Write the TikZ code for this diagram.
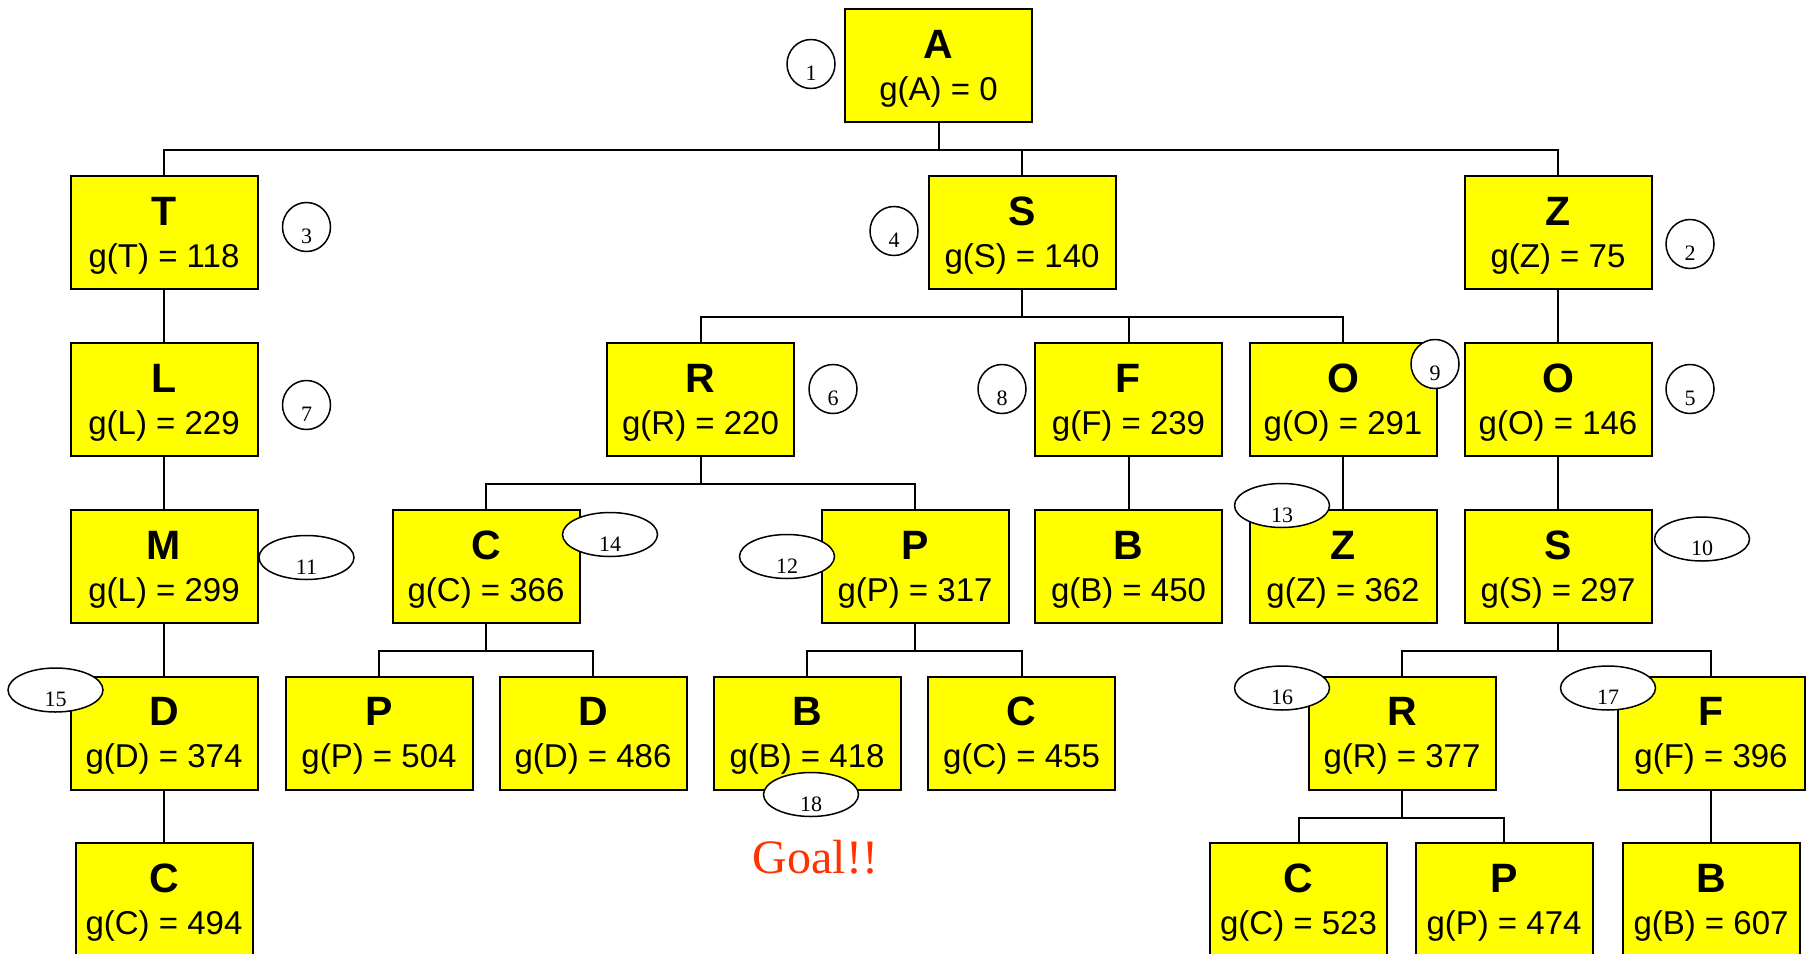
\documentclass[tikz,border=0pt]{standalone}
\usepackage{fontspec}
\setmainfont{Liberation Serif}
\newfontfamily\arialfont{Liberation Sans}
\usetikzlibrary{shapes.geometric}

\definecolor{boxyellow}{RGB}{255,255,0}
\definecolor{goalred}{RGB}{255,51,0}

\tikzset{
  treebox/.style={draw=black, fill=boxyellow, line width=2pt, minimum width=187pt, minimum height=113pt, inner sep=0pt, anchor=north},
  smallbox/.style={treebox, minimum width=177pt},
  lettertext/.style={font=\arialfont\bfseries\fontsize{41}{41}\selectfont, anchor=base, inner sep=0pt},
  gtext/.style={font=\arialfont\fontsize{33}{33}\selectfont, anchor=base, inner sep=0pt},
  conn/.style={line width=2pt},
  ordcirc/.style={draw, fill=white, ellipse, line width=1.5pt, minimum width=48pt, minimum height=49pt, inner sep=0pt},
  ordell/.style={draw, fill=white, ellipse, line width=1.5pt, minimum width=95pt, minimum height=44pt, inner sep=0pt},
  ordnum/.style={font=\fontsize{22}{22}\selectfont, anchor=base, inner sep=0pt},
  goaltext/.style={font=\fontsize{48}{48}\selectfont, text=goalred, anchor=base, inner sep=0pt},
}

\newcommand{\treenode}[6]{%
  \node[#2] (#1) at (#3,#4) {};
  \node[lettertext] (#1-l) at ([yshift=-50pt]#1.north) {#5};
  \node[gtext] (#1-g) at ([yshift=-92pt]#1.north) {#6};
}
\newcommand{\ordlabel}[5]{%
  \node[#2] (#1) at (#3,#4) {};
  \node[ordnum] (#1-n) at ([yshift=-16.5pt]#1.center) {#5};
}

\begin{document}
\begin{tikzpicture}[x=1pt, y=-1pt]
\useasboundingbox (0,0) rectangle (1814,953);

% boxes
\treenode{A}{treebox}{938.5}{8}{A}{g(A) = 0}
\treenode{T}{treebox}{164}{175}{T}{g(T) = 118}
\treenode{S}{treebox}{1022}{175}{S}{g(S) = 140}
\treenode{Z}{treebox}{1558}{175}{Z}{g(Z) = 75}
\treenode{L}{treebox}{164}{342}{L}{g(L) = 229}
\treenode{R}{treebox}{700.5}{342}{R}{g(R) = 220}
\treenode{F}{treebox}{1128.5}{342}{F}{g(F) = 239}
\treenode{O1}{treebox}{1343}{342}{O}{g(O) = 291}
\treenode{O2}{treebox}{1558}{342}{O}{g(O) = 146}
\treenode{M}{treebox}{164}{509}{M}{g(L) = 299}
\treenode{C1}{treebox}{486}{509}{C}{g(C) = 366}
\treenode{P1}{treebox}{915}{509}{P}{g(P) = 317}
\treenode{B1}{treebox}{1128.5}{509}{B}{g(B) = 450}
\treenode{Z2}{treebox}{1343}{509}{Z}{g(Z) = 362}
\treenode{S2}{treebox}{1558}{509}{S}{g(S) = 297}
\treenode{D1}{treebox}{164}{675.5}{D}{g(D) = 374}
\treenode{P2}{treebox}{379}{675.5}{P}{g(P) = 504}
\treenode{D2}{treebox}{593}{675.5}{D}{g(D) = 486}
\treenode{B2}{treebox}{807}{675.5}{B}{g(B) = 418}
\treenode{C2}{treebox}{1021.5}{675.5}{C}{g(C) = 455}
\treenode{R2}{treebox}{1402}{675.5}{R}{g(R) = 377}
\treenode{F2}{treebox}{1711}{675.5}{F}{g(F) = 396}
\treenode{C3}{smallbox}{164}{842}{C}{g(C) = 494}
\treenode{C4}{smallbox}{1298.5}{842}{C}{g(C) = 523}
\treenode{P3}{smallbox}{1504}{842}{P}{g(P) = 474}
\treenode{B3}{smallbox}{1711}{842}{B}{g(B) = 607}

% connectors
\foreach \c in {T,S,Z} \draw[conn] (A.south) -- ++(0,27) -| (\c.north);
\foreach \c in {R,F,O1} \draw[conn] (S.south) -- ++(0,27) -| (\c.north);
\foreach \c in {C1,P1} \draw[conn] (R.south) -- ++(0,27) -| (\c.north);
\foreach \c in {P2,D2} \draw[conn] (C1.south) -- ++(0,27) -| (\c.north);
\foreach \c in {B2,C2} \draw[conn] (P1.south) -- ++(0,27) -| (\c.north);
\foreach \c in {R2,F2} \draw[conn] (S2.south) -- ++(0,27) -| (\c.north);
\foreach \c in {C4,P3} \draw[conn] (R2.south) -- ++(0,27) -| (\c.north);
\draw[conn] (T.south) -- (L.north);
\draw[conn] (L.south) -- (M.north);
\draw[conn] (M.south) -- (D1.north);
\draw[conn] (D1.south) -- (C3.north);
\draw[conn] (Z.south) -- (O2.north);
\draw[conn] (O2.south) -- (S2.north);
\draw[conn] (F.south) -- (B1.north);
\draw[conn] (O1.south) -- (Z2.north);
\draw[conn] (F2.south) -- (B3.north);

% order labels
\ordlabel{n1}{ordcirc}{811}{64}{1}
\ordlabel{n2}{ordcirc}{1690}{244}{2}
\ordlabel{n3}{ordcirc}{306.5}{227}{3}
\ordlabel{n4}{ordcirc}{894}{231}{4}
\ordlabel{n5}{ordcirc}{1690}{389}{5}
\ordlabel{n6}{ordcirc}{833}{389}{6}
\ordlabel{n7}{ordcirc}{306.5}{405}{7}
\ordlabel{n8}{ordcirc}{1002}{389}{8}
\ordlabel{n9}{ordcirc}{1435}{364}{9}
\ordlabel{n10}{ordell}{1702}{539}{10}
\ordlabel{n11}{ordell}{306.5}{557.5}{11}
\ordlabel{n12}{ordell}{787}{556.5}{12}
\ordlabel{n13}{ordell}{1282}{505.5}{13}
\ordlabel{n14}{ordell}{610}{534.5}{14}
\ordlabel{n15}{ordell}{55.5}{690}{15}
\ordlabel{n16}{ordell}{1282}{688}{16}
\ordlabel{n17}{ordell}{1608}{688}{17}
\ordlabel{n18}{ordell}{811}{794.5}{18}

\node[goaltext] (goal) at (815.5,873) {Goal!!};
\end{tikzpicture}
\end{document}
